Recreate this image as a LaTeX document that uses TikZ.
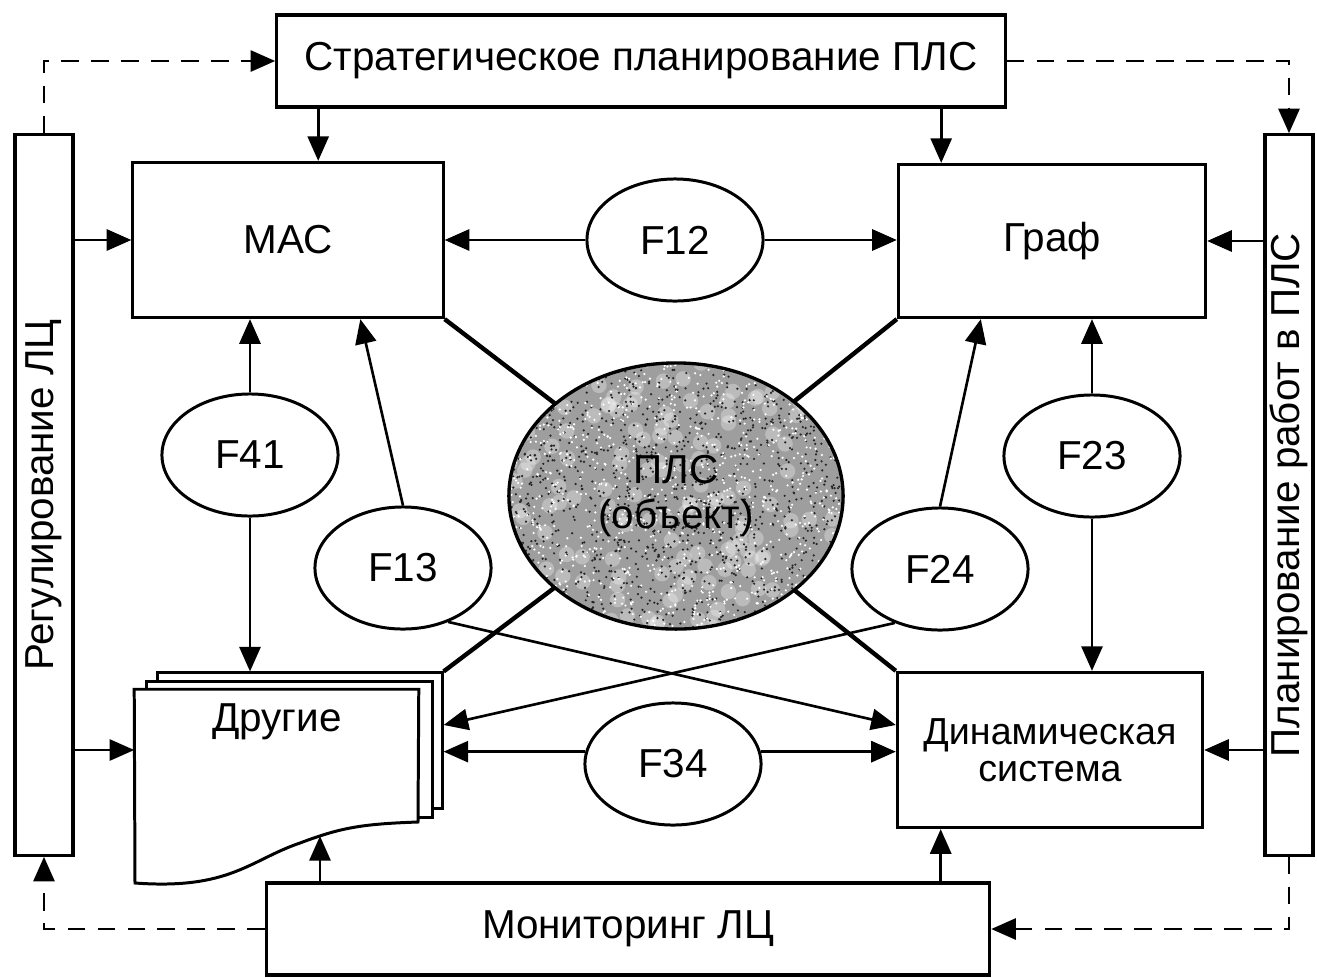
\documentclass[tikz,border=0pt]{standalone}
\usepackage{fontspec}
\setmainfont{Liberation Sans}
\usetikzlibrary{arrows.meta,shapes.geometric,calc}

\begin{document}
\begin{tikzpicture}[x=0.01cm,y=-0.01cm,
  every node/.style={font=\fontsize{11.5}{13.8}\selectfont, text=black},
  box/.style={draw, line width=0.9pt, inner sep=0pt, fill=white},
  fn/.style={ellipse, draw, line width=0.85pt, fill=white, inner sep=0pt,
             minimum width=1.76cm, minimum height=1.22cm},
  link/.style={line width=0.75pt, -{Triangle[length=7pt,width=6pt]}},
  tie/.style={line width=1.25pt},
  feedback/.style={line width=0.75pt, dash pattern=on 5pt off 3.5pt,
                   -{Triangle[length=7pt,width=6pt]}},
  page/.style={draw, line width=0.85pt, fill=white, inner sep=0pt}
]
\useasboundingbox (0,0) rectangle (1317,978);

% --- main blocks -------------------------------------------------------
\node[box, minimum width=7.28cm, minimum height=0.92cm] (top) at (641,61)
  {Стратегическое планирование ПЛС};
\node[box, minimum width=3.10cm, minimum height=1.55cm] (mac) at (288,240) {МАС};
\node[box, minimum width=3.07cm, minimum height=1.53cm] (graf) at (1052,241) {Граф};
\node[box, minimum width=3.05cm, minimum height=1.55cm, align=center,
      font=\fontsize{10.7}{10.6}\selectfont] (dyn) at (1050,750)
  {Динамическая\\система};
\node[box, minimum width=7.23cm, minimum height=0.92cm] (mon) at (628,929)
  {Мониторинг ЛЦ};
\node[box, minimum width=0.58cm, minimum height=7.20cm] (lbar) at (44,495) {};
\node[rotate=90] (ltext) at (lbar) {Регулирование ЛЦ};
\node[box, minimum width=0.48cm, minimum height=7.20cm] (rbar) at (1289,495) {};
\node[rotate=90] (rtext) at (rbar) {Планирование работ в ПЛС};

% --- stacked document "Другие" -----------------------------------------
\node[page, minimum width=2.84cm, minimum height=1.35cm] (pg3) at (300,740.5) {};
\node[page, minimum width=2.85cm, minimum height=1.35cm] (pg2) at (289.5,749.5) {};
\node[inner sep=0pt, minimum width=2.83cm, minimum height=1.93cm] (drug) at (276.5,786.5) {};
\draw[page] (drug.north west) -- (drug.north east) -- (418,822)
  .. controls (360,824) and (340,828) .. (300,843)
  .. controls (250,860) and (230,890) .. (135,883) -- cycle;
\node (drtxt) at (277,722) {Другие};
\coordinate (drbot) at (320,836);

% --- central object ----------------------------------------------------
\node[ellipse, inner sep=0pt, minimum width=3.34cm, minimum height=2.66cm] (plc) at (676,496) {};
\draw[tie] (mac.south east) -- (plc);
\draw[tie] (graf.south west) -- (plc);
\draw[tie] (pg3.north east) -- (plc);
\draw[tie] (dyn.north west) -- (plc);
\begin{scope}
  \clip (plc.center) ellipse [x radius=1.67cm, y radius=1.33cm];
  \fill[black!38] (plc.center) ellipse [x radius=1.67cm, y radius=1.33cm];
  \pgfmathsetseed{42}
  \foreach \i in {1,...,160} {
    \fill[white, opacity=0.3] ({676+170*rand},{496+136*rand}) circle [radius=2.2pt];
  }
  \foreach \i in {1,...,1400} {
    \fill[black!85] ({676+170*rand},{496+136*rand}) circle [radius=0.35pt];
  }
  \foreach \i in {1,...,1100} {
    \fill[white] ({676+170*rand},{496+136*rand}) circle [radius=0.35pt];
  }
\end{scope}
\draw[line width=0.95pt] (plc.center) ellipse [x radius=1.67cm, y radius=1.33cm];
\node[align=center, font=\fontsize{11.5}{13}\selectfont] (plctxt) at (plc) {ПЛС\\(объект)};

% --- relation ellipses -------------------------------------------------
\node[fn] (f12) at (675,240) {F12};
\node[fn] (f41) at (250,455) {F41};
\node[fn] (f23) at (1092,456) {F23};
\node[fn] (f13) at (403,568) {F13};
\node[fn] (f24) at (940,569) {F24};
\node[fn] (f34) at (673,764) {F34};

% --- links -------------------------------------------------------------
\draw[link] ($(top.south west)+(43,0)$) coordinate (t1) -- (t1 |- mac.north);
\draw[link] ($(top.south west)+(666,0)$) coordinate (t2) -- (t2 |- graf.north);

\draw[link] (f12.west) -- (f12.west -| mac.east);
\draw[link] (f12.east) -- (f12.east -| graf.west);

\draw[link] (f41.north) -- (f41.north |- mac.south);
\draw[link] (f41.south) -- (f41.south |- pg3.north);
\draw[link] (f23.north) -- (f23.north |- graf.south);
\draw[link] (f23.south) -- (f23.south |- dyn.north);

\draw[link] (f13.north) -- ($(mac.south west)+(229,0)$);
\draw[link] (f24.north) -- ($(graf.south west)+(84,0)$);

\draw[link] (f13.-50) -- ($(dyn.west)+(0,-25)$);
\draw[link] (f24.-130) -- ($(pg3.east)+(0,-15.5)$);

\draw[link] (f34.172) -- (f34.172 -| pg3.east);
\draw[link] (f34.8) -- (f34.8 -| dyn.west);

\draw[link] (lbar.east |- mac.west) -- (mac.west);
\draw[link] ($(lbar.east)+(0,255)$) coordinate (l2) -- (l2 -| drug.west);
\draw[link] (rbar.west |- graf.east) -- (graf.east);
\draw[link] (rbar.west |- dyn.east) -- (dyn.east);

\draw[link] (mon.north -| drbot) -- (drbot);
\draw[link] ($(mon.north west)+(676,0)$) coordinate (m2) -- (m2 |- dyn.south);

% --- feedback loops ----------------------------------------------------
\draw[feedback] (lbar.north) -- (lbar.north |- top.west) -- (top.west);
\draw[feedback] (top.east) -- (top.east -| rbar.north) -- (rbar.north);
\draw[feedback] (mon.west) -- (mon.west -| lbar.south) -- (lbar.south);
\draw[feedback] (rbar.south) -- (rbar.south |- mon.east) -- (mon.east);
\end{tikzpicture}
\end{document}
